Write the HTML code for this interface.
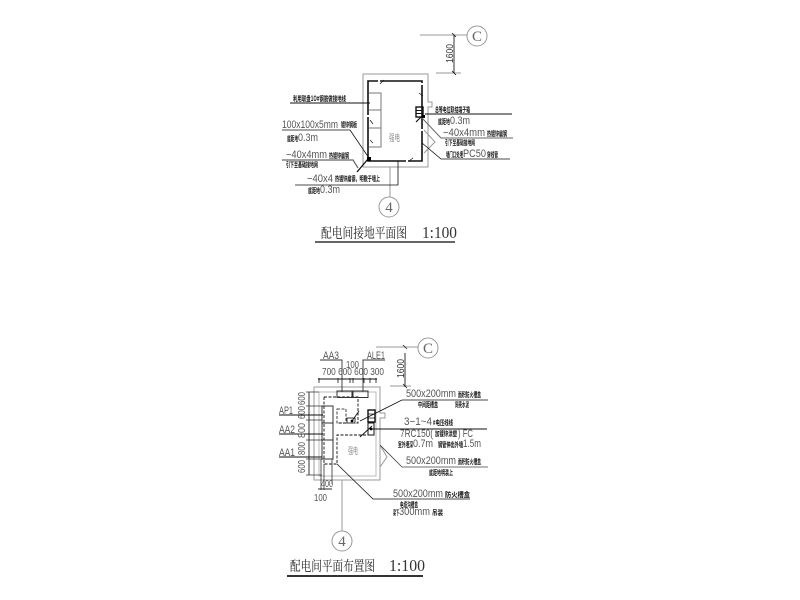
<!DOCTYPE html>
<html><head><meta charset="utf-8"><style>
html,body{margin:0;padding:0;background:#fff;width:800px;height:600px;overflow:hidden}
svg{display:block}
text{font-family:"Liberation Sans","Noto Sans CJK SC",sans-serif;fill:#555;font-size:11px}
.s{font-family:"Noto Sans CJK SC",sans-serif;font-weight:700;font-size:7px;fill:#111}
.t{font-family:"Noto Serif CJK SC",serif;font-size:14px;fill:#222}
.n{font-family:"Liberation Serif",serif;font-size:17px;fill:#333}
.c{font-family:"Liberation Serif",serif;font-size:15px;fill:#666;text-anchor:middle}
.g{font-family:"Noto Sans CJK SC",sans-serif;font-size:9px;fill:#888}
</style></head><body>
<svg width="800" height="600" viewBox="0 0 800 600" xmlns="http://www.w3.org/2000/svg">
<rect width="800" height="600" fill="#fff"/>
<!-- TOP PLAN -->
<g fill="none" stroke="#999" stroke-width="1">
<path d="M363 74H428V102H432V107H428V167H363Z"/>
<circle cx="477" cy="36" r="10"/>
<circle cx="389" cy="207" r="10"/>
<path d="M390 167V197"/>
<path d="M420 35H467M436 73H461"/>
<path d="M424 130L435 142L424 153"/>
</g>
<g fill="none" stroke="#111">
<path d="M368 161V81H422V161Z" stroke-width="1.600" stroke-dasharray="44 2"/>
<path d="M369 93H381V147H369M369 110H381M369 128H381" stroke="#777"/>
<rect x="416" y="107" width="7" height="10" stroke-width="1.400"/>
<path d="M416 110.500H423M416 113.500H423" stroke-width="1"/>
<path d="M454 35V73" stroke="#333"/>
<path d="M452 33L456 37M452 71L456 75" stroke-width=".8"/>
<path d="M290 103H370" stroke-width="1"/>
<path d="M282 130H350L369 158" stroke-width=".8"/>
<path d="M282 160H353L358 168" stroke="#666" stroke-width="1.200"/>
<path d="M368 159L357 172" stroke-width="1.300"/>
<path d="M295 185H398V161" stroke-width=".8"/>
<path d="M425 114H512" stroke-width="1"/>
<path d="M422 118L441 138H513" stroke="#666" stroke-width="1"/>
<path d="M422 143L441 159H510" stroke-width=".8"/>
<path d="M416 122L422 116" stroke-width="1.200"/>
<path d="M380 84L384 80M419 93L423 96M370 120L373 124M370 140L373 143M409 161L413 158" stroke-width=".7"/>
</g>
<rect x="367" y="157" width="4" height="4" fill="#000"/>
<rect x="422" y="115" width="3" height="3" fill="#000"/>
<text class="c" x="477" y="41">C</text>
<text class="c" x="389" y="212">4</text>
<text transform="translate(453 63) rotate(-90)" textLength="19" lengthAdjust="spacingAndGlyphs" style="font-size:10px;fill:#333">1600</text>
<text class="s" x="293" y="101" textLength="53" lengthAdjust="spacingAndGlyphs">利用联盘1O#钢筋做接地线</text>
<text x="282" y="128" textLength="56" lengthAdjust="spacingAndGlyphs">100x100x5mm</text><text class="s" x="341" y="127" textLength="16" lengthAdjust="spacingAndGlyphs">镀锌钢板</text>
<text class="s" x="287" y="141" textLength="11" lengthAdjust="spacingAndGlyphs">底距地</text><text x="298" y="141" textLength="20" lengthAdjust="spacingAndGlyphs">0.3m</text>
<text x="286" y="158" textLength="41" lengthAdjust="spacingAndGlyphs">−40x4mm</text><text class="s" x="329" y="158" textLength="20" lengthAdjust="spacingAndGlyphs">热镀锌扁钢</text>
<text class="s" x="286" y="167" textLength="32" lengthAdjust="spacingAndGlyphs">引下至基础接地网</text>
<text x="307" y="182" textLength="26" lengthAdjust="spacingAndGlyphs">−40x4</text><text class="s" x="335" y="181" textLength="45" lengthAdjust="spacingAndGlyphs">热镀锌扁钢，明敷于墙上</text>
<text class="s" x="308" y="193" textLength="12" lengthAdjust="spacingAndGlyphs">底距地</text><text x="320" y="193" textLength="20" lengthAdjust="spacingAndGlyphs">0.3m</text>
<text class="g" x="389" y="141" textLength="11" lengthAdjust="spacingAndGlyphs">强电</text>
<text class="s" x="435" y="112" textLength="35" lengthAdjust="spacingAndGlyphs">总等电位联结端子箱</text>
<text class="s" x="438" y="124" textLength="12" lengthAdjust="spacingAndGlyphs">底距地</text><text x="450" y="124" textLength="20" lengthAdjust="spacingAndGlyphs">0.3m</text>
<text x="443" y="136" textLength="42" lengthAdjust="spacingAndGlyphs">−40x4mm</text><text class="s" x="487" y="136" textLength="20" lengthAdjust="spacingAndGlyphs">热镀锌扁钢</text>
<text class="s" x="445" y="145" textLength="30" lengthAdjust="spacingAndGlyphs">引下至基础接地网</text>
<text class="s" x="446" y="157" textLength="17" lengthAdjust="spacingAndGlyphs">墙门口处埋</text><text x="463" y="157" textLength="23" lengthAdjust="spacingAndGlyphs">PC50</text><text class="s" x="487" y="157" textLength="11" lengthAdjust="spacingAndGlyphs">穿线管</text>
<text class="t" x="321" y="238" textLength="86" lengthAdjust="spacingAndGlyphs">配电间接地平面图</text>
<text class="n" x="422" y="238" textLength="35" lengthAdjust="spacingAndGlyphs">1:100</text>
<path d="M315 242H455" stroke="#333" stroke-width="1.400"/>
<!-- BOTTOM PLAN -->
<g fill="none" stroke="#999" stroke-width="1">
<path d="M314 387H380V413H385V418H380V480H314Z"/>
<path d="M319 392H376V476H319Z" stroke="#bbb"/>
<circle cx="428" cy="348" r="10"/>
<circle cx="342" cy="541" r="10"/>
<path d="M342 480V531"/>
<path d="M376 347H418M390 386H411"/>
<path d="M380 445L387 457L380 467"/>
</g>
<g fill="none" stroke="#111">
<rect x="322" y="406" width="11" height="53" stroke="#333"/>
<path d="M322 423H333M322 440H333" stroke="#333"/>
<path d="M324 397H358V423H337M324 397V464H337V435H368" stroke-width=".9" stroke-dasharray="3 1.500"/>
<path d="M337 409H346V423H337Z" stroke-width=".8" stroke-dasharray="3 1.500"/>
<rect x="337" y="391" width="15" height="6.500" stroke="#333"/>
<rect x="353" y="391" width="15" height="6.500" stroke="#333"/>
<rect x="347" y="418" width="8" height="5" stroke="#333"/>
<rect x="368" y="410" width="7" height="12" stroke-width="1.400"/>
<path d="M368 414H375M368 418H375" stroke-width=".8"/>
<rect x="368" y="423" width="6" height="12" stroke-width="1"/>
<path d="M320 360H342V392M363 392V360H385" stroke="#333" stroke-width=".9"/>
<path d="M318 379H377" stroke-width=".9"/>
<path d="M319 378V383M338 378V383M350 378V383M353 378V383M364 378V383M370 378V383M376 378V383" stroke-width=".8"/>
<path d="M309 392V475" stroke="#333"/>
<path d="M306 392H319M306 406H322M306 420H322M306 440H322M306 459H322M306 475H322" stroke="#333" stroke-width=".7"/>
<path d="M279 415H323M279 434H323M279 457H322" stroke-width=".9"/>
<path d="M318 489H332" stroke-width=".9"/>
<path d="M321 459V490M324 464V490M332 459V484" stroke="#333" stroke-width=".8"/>
<path d="M405 353V387" stroke="#333"/>
<path d="M403 384L407 388M403 345L407 349" stroke-width=".7"/>
<path d="M360 421L402 400H488" stroke-width=".8"/>
<path d="M371 429H487" stroke-width="1.100"/>
<path d="M380 445L402 467H488" stroke="#444" stroke-width=".8"/>
<path d="M337 464L373 499H470" stroke-width=".8"/>
<path d="M352 421L359 411M360 437L372 426" stroke-width=".9"/>
</g>
<circle cx="371" cy="429" r="1.400" fill="#000"/>
<circle cx="352" cy="421" r="1.400" fill="#000"/>
<text x="323" y="359" textLength="16" lengthAdjust="spacingAndGlyphs">AA3</text>
<text x="367" y="359" textLength="18" lengthAdjust="spacingAndGlyphs">ALE1</text>
<text x="346" y="368" textLength="13" lengthAdjust="spacingAndGlyphs" style="font-size:10px">100</text>
<text x="322" y="375" textLength="62" lengthAdjust="spacingAndGlyphs" style="font-size:10px">700 600 600 300</text>
<text x="279" y="414" textLength="14" lengthAdjust="spacingAndGlyphs">AP1</text>
<text x="279" y="433" textLength="16" lengthAdjust="spacingAndGlyphs">AA2</text>
<text x="279" y="456" textLength="16" lengthAdjust="spacingAndGlyphs">AA1</text>
<text transform="translate(305 405) rotate(-90)" textLength="13" lengthAdjust="spacingAndGlyphs" style="font-size:10px">600</text>
<text transform="translate(305 419) rotate(-90)" textLength="13" lengthAdjust="spacingAndGlyphs" style="font-size:10px">600</text>
<text transform="translate(305 438) rotate(-90)" textLength="15" lengthAdjust="spacingAndGlyphs" style="font-size:10px">800</text>
<text transform="translate(305 455) rotate(-90)" textLength="13" lengthAdjust="spacingAndGlyphs" style="font-size:10px">800</text>
<text transform="translate(305 473) rotate(-90)" textLength="13" lengthAdjust="spacingAndGlyphs" style="font-size:10px">600</text>
<text x="321" y="487" textLength="12" lengthAdjust="spacingAndGlyphs" style="font-size:10px">400</text>
<text x="314" y="501" textLength="13" lengthAdjust="spacingAndGlyphs" style="font-size:10px">100</text>
<text transform="translate(404 378) rotate(-90)" textLength="19" lengthAdjust="spacingAndGlyphs" style="font-size:10px;fill:#333">1600</text>
<text class="c" x="428" y="353">C</text>
<text class="c" x="342" y="546">4</text>
<text x="406" y="397" textLength="50" lengthAdjust="spacingAndGlyphs">500x200mm</text><text class="s" x="458" y="397" textLength="23" lengthAdjust="spacingAndGlyphs">面积防火槽盒</text>
<text class="s" x="418" y="407" textLength="20" lengthAdjust="spacingAndGlyphs">中间距槽盒</text><text class="s" x="455" y="407" textLength="14" lengthAdjust="spacingAndGlyphs">同壳水泥</text>
<text x="404" y="425" textLength="28" lengthAdjust="spacingAndGlyphs">3−1~4</text><text class="s" x="433" y="425" textLength="20" lengthAdjust="spacingAndGlyphs">#电压线线</text>
<text x="400" y="437" textLength="33" lengthAdjust="spacingAndGlyphs">7RC150(</text><text class="s" x="435" y="436" textLength="22" lengthAdjust="spacingAndGlyphs">加镀锌涂塑</text><text x="458" y="437" textLength="15" lengthAdjust="spacingAndGlyphs">) FC</text>
<text class="s" x="398" y="447" textLength="15" lengthAdjust="spacingAndGlyphs">室外埋深</text><text x="413" y="447" textLength="20" lengthAdjust="spacingAndGlyphs">0.7m</text><text class="s" x="438" y="447" textLength="25" lengthAdjust="spacingAndGlyphs">钢管伸出外墙</text><text x="463" y="447" textLength="18" lengthAdjust="spacingAndGlyphs">1.5m</text>
<text x="406" y="464" textLength="50" lengthAdjust="spacingAndGlyphs">500x200mm</text><text class="s" x="458" y="464" textLength="23" lengthAdjust="spacingAndGlyphs">面积防火槽盒</text>
<text class="s" x="429" y="475" textLength="24" lengthAdjust="spacingAndGlyphs">底距地明装上</text>
<text x="393" y="497" textLength="50" lengthAdjust="spacingAndGlyphs">500x200mm</text><text class="s" x="445" y="497" textLength="25" lengthAdjust="spacingAndGlyphs">防火槽盒</text>
<text class="s" x="400" y="507" textLength="18" lengthAdjust="spacingAndGlyphs">电缆沟槽盒</text>
<text class="s" x="393" y="515" textLength="6" lengthAdjust="spacingAndGlyphs">梁下</text><text x="399" y="515" textLength="31" lengthAdjust="spacingAndGlyphs">300mm</text><text class="s" x="432" y="515" textLength="11" lengthAdjust="spacingAndGlyphs">吊装</text>
<text class="g" x="348" y="454" textLength="10" lengthAdjust="spacingAndGlyphs">强电</text>
<text class="t" x="290" y="571" textLength="85" lengthAdjust="spacingAndGlyphs">配电间平面布置图</text>
<text class="n" x="389" y="571" textLength="36" lengthAdjust="spacingAndGlyphs">1:100</text>
<path d="M287 576H423" stroke="#333" stroke-width="2"/>
</svg>
</body></html>
